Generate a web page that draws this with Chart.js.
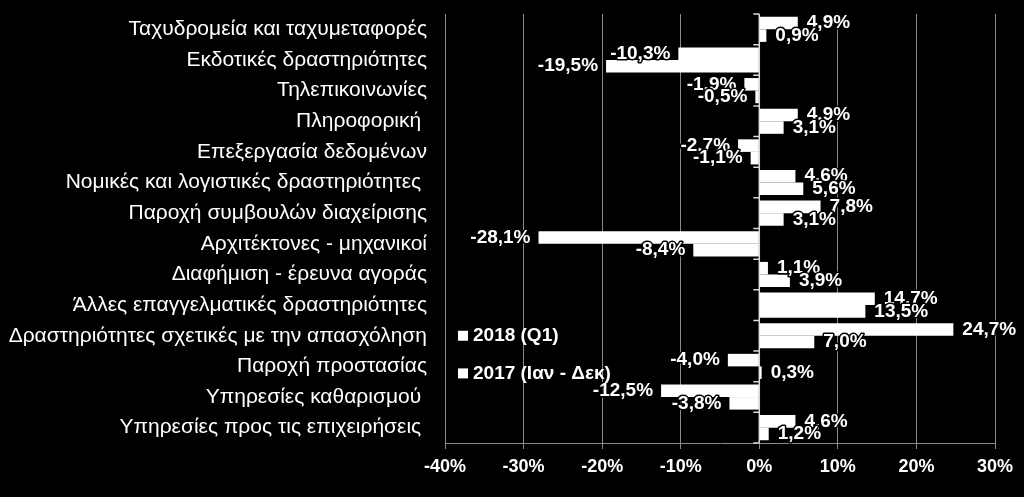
<!DOCTYPE html>
<html>
<head>
<meta charset="utf-8">
<script src="https://cdn.jsdelivr.net/npm/chart.js@4.4.1/dist/chart.umd.min.js"></script>
<style>
  html, body { margin: 0; padding: 0; background: #000; }
  #wrap { width: 1024px; height: 497px; position: relative; }
</style>
</head>
<body>
<div id="wrap"><canvas id="c"></canvas></div>
<script>
const categories = [
  "Ταχυδρομεία και ταχυμεταφορές",
  "Εκδοτικές δραστηριότητες",
  "Τηλεπικοινωνίες",
  "Πληροφορική ",
  "Επεξεργασία δεδομένων",
  "Νομικές και λογιστικές δραστηριότητες ",
  "Παροχή συμβουλών διαχείρισης",
  "Αρχιτέκτονες - μηχανικοί",
  "Διαφήμιση - έρευνα αγοράς",
  "Άλλες επαγγελματικές δραστηριότητες",
  "Δραστηριότητες σχετικές με την απασχόληση",
  "Παροχή προστασίας",
  "Υπηρεσίες καθαρισμού ",
  "Υπηρεσίες προς τις επιχειρήσεις "
];
const seriesNames = ["2018 (Q1)", "2017 (Ιαν - Δεκ)"];
const values2018 = [4.9, -10.3, -1.9, 4.9, -2.7, 4.6, 7.8, -28.1, 1.1, 14.7, 24.7, -4.0, -12.5, 4.6];
const values2017 = [0.9, -19.5, -0.5, 3.1, -1.1, 5.6, 3.1, -8.4, 3.9, 13.5, 7.0, 0.3, -3.8, 1.2];
const xTicks = [-40, -30, -20, -10, 0, 10, 20, 30];

const FONT = "'Liberation Sans', Arial, Helvetica, sans-serif";

function fmt(v) { return v.toFixed(1).replace('.', ',') + '%'; }

const labelPlugin = {
  id: 'valueLabels',
  afterDatasetsDraw(chart) {
    const ctx = chart.ctx;
    ctx.save();
    ctx.font = "bold 19px " + FONT;
    ctx.textBaseline = 'middle';
    ctx.lineJoin = 'round';
    chart.data.datasets.forEach((ds, di) => {
      const meta = chart.getDatasetMeta(di);
      meta.data.forEach((bar, i) => {
        const v = ds.data[i];
        const txt = fmt(v);
        let x;
        if (v >= 0) { ctx.textAlign = 'left'; x = bar.x + 9; }
        else { ctx.textAlign = 'right'; x = bar.x - 8; }
        ctx.strokeStyle = '#000';
        ctx.lineWidth = 3;
        ctx.strokeText(txt, x, bar.y);
        ctx.fillStyle = '#fff';
        ctx.fillText(txt, x, bar.y);
      });
    });
    ctx.restore();
  }
};

const zeroAxisPlugin = {
  id: 'zeroAxis',
  beforeDatasetsDraw(chart) {
    const ctx = chart.ctx;
    const xs = chart.scales.x;
    const x0 = xs.getPixelForValue(0);
    ctx.save();
    ctx.strokeStyle = '#d9d9d9';
    ctx.lineWidth = 1.5;
    ctx.beginPath();
    ctx.moveTo(x0, chart.chartArea.top);
    ctx.lineTo(x0, chart.chartArea.bottom);
    const n = categories.length;
    const step = (chart.chartArea.bottom - chart.chartArea.top) / n;
    for (let i = 0; i <= n; i++) {
      const y = chart.chartArea.top + i * step;
      ctx.moveTo(x0 - 6, y);
      ctx.lineTo(x0, y);
    }
    ctx.stroke();
    ctx.restore();
  }
};

const legendPlugin = {
  id: 'innerLegend',
  afterDraw(chart) {
    const ctx = chart.ctx;
    const area = chart.chartArea;
    ctx.save();
    ctx.font = "bold 19px " + FONT;
    ctx.textBaseline = 'middle';
    ctx.textAlign = 'left';
    const ys = chart.scales.y;
    const rows = [ys.getPixelForValue(10), ys.getPixelForValue(11) + 7];
    chart.data.datasets.forEach((ds, i) => {
      const y = rows[i];
      ctx.fillStyle = '#fff';
      ctx.fillRect(area.left + 13, y - 5, 10, 10);
      ctx.fillText(ds.label, area.left + 28, y);
    });
    ctx.restore();
  }
};

new Chart(document.getElementById('c'), {
  type: 'bar',
  data: {
    labels: categories,
    datasets: [
      { label: seriesNames[0], data: values2018, backgroundColor: '#ffffff', borderWidth: 0,
        categoryPercentage: 0.82, barPercentage: 1.0 },
      { label: seriesNames[1], data: values2017, backgroundColor: '#ffffff', borderWidth: 0,
        categoryPercentage: 0.82, barPercentage: 1.0 }
    ]
  },
  options: {
    indexAxis: 'y',
    responsive: true,
    maintainAspectRatio: false,
    animation: false,
    layout: { padding: { top: 14, right: 29, left: 0, bottom: 0 } },
    plugins: {
      legend: { display: false },
      tooltip: { enabled: false }
    },
    scales: {
      x: {
        type: 'linear',
        min: -40, max: 30,
        afterBuildTicks(s) { s.ticks = xTicks.map(v => ({ value: v })); },
        afterFit(s) { s.height = 54; },
        grid: { color: '#8a8a8a', lineWidth: 1, tickLength: 6, drawTicks: true },
        border: { color: '#8a8a8a', width: 1 },
        ticks: {
          color: '#ffffff',
          font: { family: FONT, size: 18, weight: 'bold' },
          padding: 7,
          callback: v => v + '%'
        }
      },
      y: {
        afterFit(s) { s.width = 445; },
        grid: { display: false, drawTicks: true, tickLength: 18 },
        border: { display: false },
        ticks: {
          color: '#ffffff',
          font: { family: FONT, size: 21 },
          padding: 0,
          autoSkip: false
        }
      }
    }
  },
  plugins: [zeroAxisPlugin, labelPlugin, legendPlugin]
});
</script>
</body>
</html>
